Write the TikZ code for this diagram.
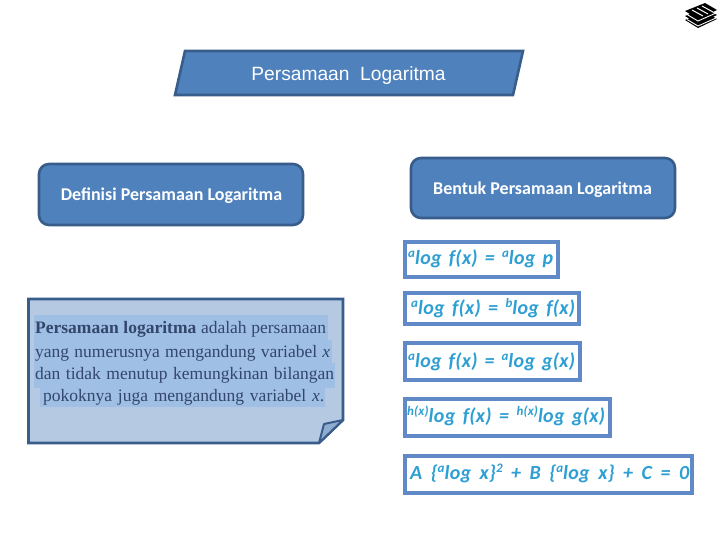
\documentclass[tikz,border=0pt]{standalone}
\usepackage{fontspec}
\setmainfont{Liberation Serif}
\newfontfamily\titlefont{Liberation Sans}
\newfontfamily\labelfont{Carlito}
\newfontfamily\formfont[LetterSpace=1.5]{Carlito}
\newcommand{\fup}[1]{\raisebox{6.5pt}{\fontsize{13}{14}\selectfont #1}}
\newcommand{\fln}[2]{\makebox[#1][s]{#2}}
\newcommand{\fgap}{\hspace{4pt plus 1fil minus 4pt}}
\definecolor{mainblue}{HTML}{4F81BD}
\definecolor{edgeblue}{HTML}{385D8A}
\definecolor{noteblue}{HTML}{B5C9E3}
\definecolor{bandblue}{HTML}{A0BFE4}
\definecolor{foldblue}{HTML}{8FACD0}
\definecolor{formedge}{HTML}{5F8AC7}
\definecolor{formtext}{HTML}{2E9FD2}
\definecolor{paratext}{HTML}{33466B}
\tikzset{
  x=1pt,y=-1pt,
  headshape/.style={draw=edgeblue,fill=mainblue,line width=2.6pt,line join=miter},
  headbox/.style={draw=edgeblue,fill=mainblue,line width=2.6pt,rounded corners=10pt},
  headtext/.style={text=white,inner sep=0pt,font=\labelfont\bfseries\fontsize{18}{20}\selectfont},
  formbox/.style={draw=formedge,line width=4pt,fill=white},
  formlabel/.style={text=formtext,anchor=base west,inner sep=0pt,font=\formfont\bfseries\itshape\fontsize{20}{22}\selectfont},
  band/.style={fill=bandblue,draw=none},
  paraline/.style={text=paratext,anchor=base west,inner sep=0pt,font=\fontsize{17.5}{20}\selectfont},
  bookpart/.style={fill=black,draw=none}
}
\begin{document}
\begin{tikzpicture}
\useasboundingbox (0,0) rectangle (720,540);
\fill[white] (0,0) rectangle (720,540);
% title
\draw[headshape] (185,51) -- (523,51) -- (513,95) -- (175,95) -- cycle;
\node[text=white,inner sep=0pt,font=\titlefont\fontsize{19.2}{22}\selectfont] (title) at (348.5,75.5) {Persamaan\ \ Logaritma};
% heads
\draw[headbox] (39,164) rectangle (303,225);
\node[headtext] (def) at (171.5,196) {Definisi Persamaan Logaritma};
\draw[headbox] (411,158) rectangle (675,218);
\node[headtext] (bentuk) at (542.5,189.5) {Bentuk Persamaan Logaritma};
% note
\fill[noteblue] (28.5,299) -- (343,299) -- (343,420) -- (319,443) -- (28.5,443) -- cycle;
\fill[band] (34,315) rectangle (328,340);
\fill[band] (34,340) rectangle (332,363);
\fill[band] (34,363) rectangle (335,388);
\fill[band] (40,388) rectangle (325,407);
\draw[edgeblue,line width=2.6pt,line join=miter] (28.5,299) -- (343,299) -- (343,420) -- (319,443) -- (28.5,443) -- cycle;
\draw[edgeblue,line width=2pt,fill=foldblue,line join=round] (319,443) -- (324,424) -- (343,420) -- cycle;
\node[paraline] (p1) at (35,333) {\fln{291pt}{\textbf{Persamaan logaritma} adalah persamaan}};
\node[paraline] (p2) at (35,357) {\fln{295pt}{yang numerusnya mengandung variabel \textit{x}}};
\node[paraline] (p3) at (35,379) {\fln{299pt}{dan tidak menutup kemungkinan bilangan}};
\node[paraline] (p4) at (43,401) {\fln{281pt}{pokoknya juga mengandung variabel \textit{x}.}};
% formulas
\draw[formbox] (405,242) rectangle (558,277);
\node[formlabel] (f1) at (408,264) {\fln{145pt}{\fup{a}log\fgap f(x)\fgap =\fgap \fup{a}log\fgap p}};
\draw[formbox] (405,293) rectangle (579,324);
\node[formlabel] (f2) at (411,314) {\fln{164pt}{\fup{a}log\fgap f(x)\fgap =\fgap \fup{b}log\fgap f(x)}};
\draw[formbox] (405,343) rectangle (580,380);
\node[formlabel] (f3) at (408,367) {\fln{167pt}{\fup{a}log\fgap f(x)\fgap =\fgap \fup{a}log\fgap g(x)}};
\draw[formbox] (405,399) rectangle (610,436);
\node[formlabel] (f4) at (407,422) {\fln{198pt}{\fup{h(x)}log\fgap f(x)\fgap =\fgap \fup{h(x)}log\fgap g(x)}};
\draw[formbox] (405,456) rectangle (692,493);
\node[formlabel] (f5) at (410,479) {\fln{279pt}{A\fgap \{\fup{a}log\fgap x\}\fup{2}\fgap +\fgap B\fgap \{\fup{a}log\fgap x\}\fgap +\fgap C\fgap =\fgap 0}};
% book icon
\foreach \d in {0,5,9}{
  \fill[bookpart] (685,{11+\d}) -- (705,{3+\d}) -- (717,{10+\d}) -- (698,{19+\d}) -- cycle;
}
\foreach \d in {0,5}{
  \draw[white,line width=0.9pt] (687,{14.5+\d}) -- (698,{21+\d}) -- (716,{13+\d});
}
\draw[white,line width=1pt] (692,10) -- (703,16);
\draw[white,line width=1pt] (697,8) -- (708,14);
\draw[white,line width=1pt] (702,6) -- (713,12);
\end{tikzpicture}
\end{document}
